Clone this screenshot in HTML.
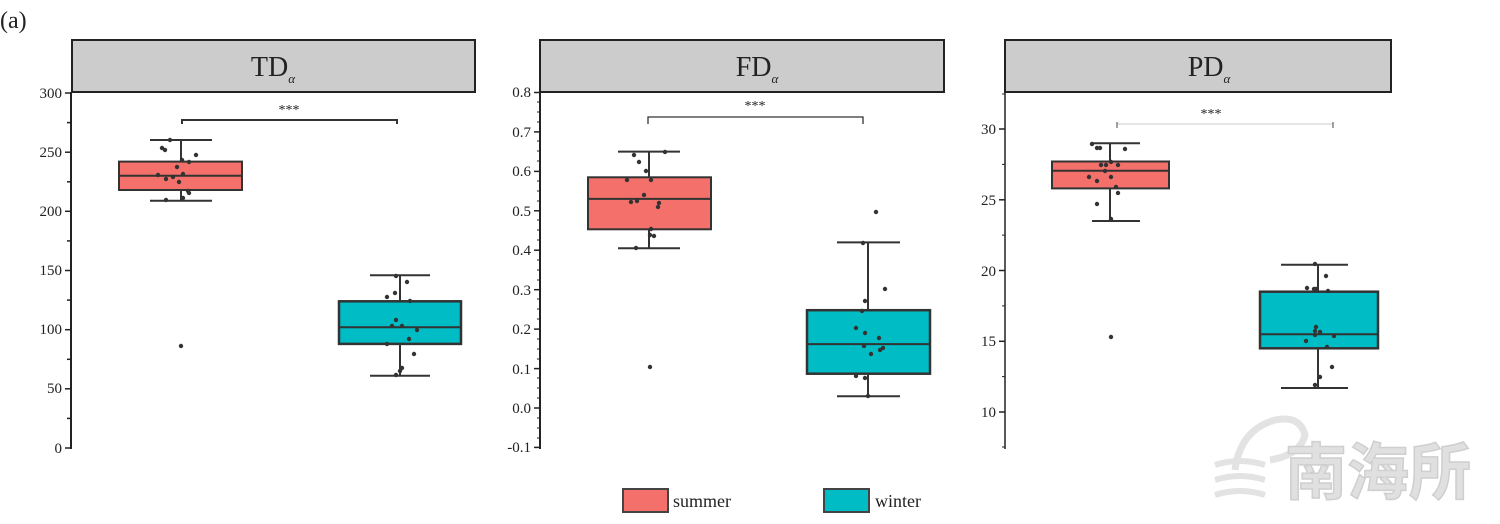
<!DOCTYPE html>
<html><head><meta charset="utf-8"><style>
html,body{margin:0;padding:0;background:#fff;}
svg{display:block;}
text{font-family:"Liberation Serif",serif;fill:#222;}
</style></head><body>
<svg width="1500" height="524" viewBox="0 0 1500 524" xmlns="http://www.w3.org/2000/svg">
<text x="0" y="28" font-size="24">(a)</text>

<!-- watermark -->
<g opacity="0.4">
<path d="M1235 470 q5 -40 40 -50 q25 -5 30 15 q-5 20 -35 25" fill="none" stroke="#bbb" stroke-width="7"/>
<path d="M1215 465 q25 -8 50 0 M1215 480 q25 -8 50 0 M1215 495 q25 -8 50 0" fill="none" stroke="#bbb" stroke-width="6"/>
</g>
<text x="1285" y="494" font-size="62" font-weight="bold" style="font-family:'Liberation Sans','Noto Sans CJK SC',sans-serif;fill:#e0e0e0;stroke:#cfcfcf;stroke-width:1.5">南海所</text>

<!-- Panel 1 -->
<rect x="72" y="40" width="403" height="52" fill="#cccccc" stroke="#222" stroke-width="2"/>
<text x="273" y="76" font-size="28" text-anchor="middle">TD<tspan dy="7" font-size="13" font-style="italic">α</tspan></text>
<line x1="71" y1="92" x2="71" y2="449" stroke="#222" stroke-width="2"/>
<g stroke="#222" stroke-width="1.5">
<line x1="65" y1="93" x2="71" y2="93"/><line x1="67" y1="122.6" x2="71" y2="122.6"/>
<line x1="65" y1="152.2" x2="71" y2="152.2"/><line x1="67" y1="181.8" x2="71" y2="181.8"/>
<line x1="65" y1="211.3" x2="71" y2="211.3"/><line x1="67" y1="240.9" x2="71" y2="240.9"/>
<line x1="65" y1="270.5" x2="71" y2="270.5"/><line x1="67" y1="300.1" x2="71" y2="300.1"/>
<line x1="65" y1="329.7" x2="71" y2="329.7"/><line x1="67" y1="359.3" x2="71" y2="359.3"/>
<line x1="65" y1="388.8" x2="71" y2="388.8"/><line x1="67" y1="418.4" x2="71" y2="418.4"/>
<line x1="65" y1="448" x2="71" y2="448"/>
</g>
<g font-size="15" text-anchor="end">
<text x="62" y="98">300</text><text x="62" y="157">250</text><text x="62" y="216">200</text>
<text x="62" y="275">150</text><text x="62" y="334">100</text><text x="62" y="393">50</text><text x="62" y="453">0</text>
</g>
<polyline points="182,124 182,120 397,120 397,124" fill="none" stroke="#333" stroke-width="2"/>
<text x="289" y="114" font-size="14" text-anchor="middle">***</text>
<g stroke="#333" stroke-width="2">
<line x1="181" y1="140" x2="181" y2="201"/><line x1="150" y1="140" x2="212" y2="140"/><line x1="150" y1="200.7" x2="212" y2="200.7"/>
<rect x="119" y="161.6" width="123" height="28.4" fill="#f4706a"/><line x1="119" y1="175.8" x2="242" y2="175.8"/>
<line x1="400" y1="275" x2="400" y2="376"/><line x1="370" y1="275.2" x2="430" y2="275.2"/><line x1="370" y1="375.8" x2="430" y2="375.8"/>
<rect x="339" y="301.3" width="122" height="42.6" fill="#00bcc4" stroke-width="2.5"/><line x1="339" y1="327.3" x2="461" y2="327.3"/>
</g>
<g fill="#333">
<circle cx="170" cy="140" r="2.2"/><circle cx="162" cy="148" r="2.2"/><circle cx="165" cy="150" r="2.2"/><circle cx="196" cy="155" r="2.2"/>
<circle cx="182" cy="160" r="2.2"/><circle cx="189" cy="162" r="2.2"/><circle cx="177" cy="167" r="2.2"/><circle cx="183" cy="174" r="2.2"/>
<circle cx="158" cy="175" r="2.2"/><circle cx="166" cy="179" r="2.2"/><circle cx="173" cy="177" r="2.2"/><circle cx="179" cy="182" r="2.2"/>
<circle cx="188" cy="191" r="2.2"/><circle cx="189" cy="193" r="2.2"/><circle cx="166" cy="200" r="2.2"/><circle cx="183" cy="198" r="2.2"/>
<circle cx="181" cy="346" r="2.2"/>
<circle cx="396" cy="276" r="2.2"/><circle cx="407" cy="282" r="2.2"/><circle cx="395" cy="293" r="2.2"/><circle cx="387" cy="297" r="2.2"/>
<circle cx="410" cy="301" r="2.2"/><circle cx="396" cy="320" r="2.2"/><circle cx="392" cy="326" r="2.2"/><circle cx="402" cy="326" r="2.2"/>
<circle cx="417" cy="330" r="2.2"/><circle cx="409" cy="339" r="2.2"/><circle cx="387" cy="344" r="2.2"/><circle cx="414" cy="354" r="2.2"/>
<circle cx="402" cy="368" r="2.2"/><circle cx="400" cy="371" r="2.2"/><circle cx="396" cy="375" r="2.2"/>
</g>

<!-- Panel 2 -->
<rect x="540" y="40" width="404" height="52" fill="#cccccc" stroke="#222" stroke-width="2"/>
<text x="757" y="76" font-size="28" text-anchor="middle">FD<tspan dy="7" font-size="13" font-style="italic">α</tspan></text>
<line x1="540" y1="92" x2="540" y2="449" stroke="#222" stroke-width="2"/>
<g stroke="#222" stroke-width="1.5">
<line x1="534" y1="92.5" x2="540" y2="92.5"/><line x1="534" y1="131.9" x2="540" y2="131.9"/><line x1="534" y1="171.4" x2="540" y2="171.4"/>
<line x1="534" y1="210.8" x2="540" y2="210.8"/><line x1="534" y1="250.2" x2="540" y2="250.2"/><line x1="534" y1="289.7" x2="540" y2="289.7"/>
<line x1="534" y1="329.1" x2="540" y2="329.1"/><line x1="534" y1="368.6" x2="540" y2="368.6"/><line x1="534" y1="408" x2="540" y2="408"/>
<line x1="534" y1="447.4" x2="540" y2="447.4"/>
</g>
<g stroke="#222" stroke-width="1">
<line x1="537" y1="102" x2="540" y2="102"/><line x1="537" y1="112" x2="540" y2="112"/><line x1="537" y1="122" x2="540" y2="122"/>
<line x1="537" y1="141" x2="540" y2="141"/><line x1="537" y1="151" x2="540" y2="151"/><line x1="537" y1="161" x2="540" y2="161"/>
<line x1="537" y1="181" x2="540" y2="181"/><line x1="537" y1="191" x2="540" y2="191"/><line x1="537" y1="201" x2="540" y2="201"/>
<line x1="537" y1="220" x2="540" y2="220"/><line x1="537" y1="230" x2="540" y2="230"/><line x1="537" y1="240" x2="540" y2="240"/>
<line x1="537" y1="260" x2="540" y2="260"/><line x1="537" y1="270" x2="540" y2="270"/><line x1="537" y1="280" x2="540" y2="280"/>
<line x1="537" y1="299" x2="540" y2="299"/><line x1="537" y1="309" x2="540" y2="309"/><line x1="537" y1="319" x2="540" y2="319"/>
<line x1="537" y1="339" x2="540" y2="339"/><line x1="537" y1="349" x2="540" y2="349"/><line x1="537" y1="359" x2="540" y2="359"/>
<line x1="537" y1="378" x2="540" y2="378"/><line x1="537" y1="388" x2="540" y2="388"/><line x1="537" y1="398" x2="540" y2="398"/>
<line x1="537" y1="418" x2="540" y2="418"/><line x1="537" y1="428" x2="540" y2="428"/><line x1="537" y1="438" x2="540" y2="438"/>
</g>
<g font-size="15" text-anchor="end">
<text x="531" y="97">0.8</text><text x="531" y="137">0.7</text><text x="531" y="176">0.6</text><text x="531" y="216">0.5</text>
<text x="531" y="255">0.4</text><text x="531" y="295">0.3</text><text x="531" y="334">0.2</text><text x="531" y="374">0.1</text>
<text x="531" y="413">0.0</text><text x="531" y="452">-0.1</text>
</g>
<polyline points="648,124 648,117 863,117 863,124" fill="none" stroke="#333" stroke-width="1.3"/>
<text x="755" y="110" font-size="14" text-anchor="middle">***</text>
<g stroke="#333" stroke-width="2">
<line x1="649" y1="152" x2="649" y2="248"/><line x1="618" y1="151.6" x2="680" y2="151.6"/><line x1="618" y1="248.3" x2="680" y2="248.3"/>
<rect x="588" y="177.3" width="123" height="52" fill="#f4706a"/><line x1="588" y1="198.9" x2="711" y2="198.9"/>
<line x1="868" y1="242" x2="868" y2="396"/><line x1="837" y1="242.4" x2="900" y2="242.4"/><line x1="837" y1="396.2" x2="900" y2="396.2"/>
<rect x="807" y="310.2" width="123" height="63.5" fill="#00bcc4" stroke-width="2.5"/><line x1="807" y1="344.1" x2="930" y2="344.1"/>
</g>
<g fill="#333">
<circle cx="634" cy="155" r="2.2"/><circle cx="665" cy="152" r="2.2"/><circle cx="639" cy="162" r="2.2"/><circle cx="646" cy="171" r="2.2"/>
<circle cx="627" cy="180" r="2.2"/><circle cx="651" cy="180" r="2.2"/><circle cx="644" cy="195" r="2.2"/><circle cx="637" cy="201" r="2.2"/>
<circle cx="631" cy="202" r="2.2"/><circle cx="659" cy="203" r="2.2"/><circle cx="658" cy="207" r="2.2"/><circle cx="651" cy="229" r="2.2"/>
<circle cx="650" cy="235" r="2.2"/><circle cx="654" cy="236" r="2.2"/><circle cx="636" cy="248" r="2.2"/>
<circle cx="650" cy="367" r="2.2"/>
<circle cx="876" cy="212" r="2.2"/><circle cx="863" cy="243" r="2.2"/><circle cx="885" cy="289" r="2.2"/><circle cx="865" cy="301" r="2.2"/>
<circle cx="862" cy="311" r="2.2"/><circle cx="856" cy="328" r="2.2"/><circle cx="865" cy="333" r="2.2"/><circle cx="879" cy="338" r="2.2"/>
<circle cx="864" cy="346" r="2.2"/><circle cx="871" cy="354" r="2.2"/><circle cx="880" cy="350" r="2.2"/><circle cx="883" cy="348" r="2.2"/>
<circle cx="856" cy="376" r="2.2"/><circle cx="865" cy="378" r="2.2"/><circle cx="868" cy="396" r="2.2"/>
</g>

<!-- Panel 3 -->
<rect x="1005" y="40" width="386" height="52" fill="#cccccc" stroke="#222" stroke-width="2"/>
<text x="1209" y="76" font-size="28" text-anchor="middle">PD<tspan dy="7" font-size="13" font-style="italic">α</tspan></text>
<line x1="1005" y1="92" x2="1005" y2="449" stroke="#222" stroke-width="1.5"/>
<g stroke="#222" stroke-width="1.5">
<line x1="999" y1="129" x2="1005" y2="129"/><line x1="999" y1="199.8" x2="1005" y2="199.8"/><line x1="999" y1="270.5" x2="1005" y2="270.5"/>
<line x1="999" y1="341.3" x2="1005" y2="341.3"/><line x1="999" y1="412" x2="1005" y2="412"/>
</g>
<g stroke="#222" stroke-width="1">
<line x1="1002" y1="94" x2="1005" y2="94"/><line x1="1002" y1="164.4" x2="1005" y2="164.4"/><line x1="1002" y1="235.1" x2="1005" y2="235.1"/>
<line x1="1002" y1="305.9" x2="1005" y2="305.9"/><line x1="1002" y1="376.6" x2="1005" y2="376.6"/><line x1="1002" y1="447" x2="1005" y2="447"/>
</g>
<g font-size="15" text-anchor="end">
<text x="996" y="134">30</text><text x="996" y="205">25</text><text x="996" y="276">20</text><text x="996" y="346">15</text><text x="996" y="417">10</text>
</g>
<line x1="1117" y1="124" x2="1333" y2="124" stroke="#ccc" stroke-width="1"/>
<line x1="1117" y1="122" x2="1117" y2="128" stroke="#444" stroke-width="1"/><line x1="1333" y1="122" x2="1333" y2="128" stroke="#444" stroke-width="1"/>
<text x="1211" y="118" font-size="14" text-anchor="middle">***</text>
<g stroke="#333" stroke-width="2">
<line x1="1110" y1="143" x2="1110" y2="221"/><line x1="1092" y1="143.2" x2="1140" y2="143.2"/><line x1="1092" y1="221" x2="1140" y2="221"/>
<rect x="1052" y="161.5" width="117" height="26.9" fill="#f4706a"/><line x1="1052" y1="170.7" x2="1169" y2="170.7"/>
<line x1="1318" y1="265" x2="1318" y2="388"/><line x1="1281" y1="264.8" x2="1348" y2="264.8"/><line x1="1281" y1="388" x2="1348" y2="388"/>
<rect x="1260" y="291.7" width="118" height="56.6" fill="#00bcc4" stroke-width="2.5"/><line x1="1260" y1="334.2" x2="1378" y2="334.2"/>
</g>
<g fill="#333">
<circle cx="1092" cy="144" r="2.2"/><circle cx="1097" cy="148" r="2.2"/><circle cx="1100" cy="148" r="2.2"/><circle cx="1125" cy="149" r="2.2"/>
<circle cx="1111" cy="162" r="2.2"/><circle cx="1101" cy="165" r="2.2"/><circle cx="1106" cy="165" r="2.2"/><circle cx="1118" cy="165" r="2.2"/>
<circle cx="1105" cy="171" r="2.2"/><circle cx="1089" cy="177" r="2.2"/><circle cx="1111" cy="177" r="2.2"/><circle cx="1097" cy="181" r="2.2"/>
<circle cx="1116" cy="187" r="2.2"/><circle cx="1118" cy="193" r="2.2"/><circle cx="1097" cy="204" r="2.2"/><circle cx="1111" cy="219" r="2.2"/>
<circle cx="1111" cy="337" r="2.2"/>
<circle cx="1315" cy="264" r="2.2"/><circle cx="1326" cy="276" r="2.2"/><circle cx="1307" cy="288" r="2.2"/><circle cx="1314" cy="289" r="2.2"/>
<circle cx="1316" cy="289" r="2.2"/><circle cx="1328" cy="291" r="2.2"/><circle cx="1316" cy="327" r="2.2"/><circle cx="1315" cy="331" r="2.2"/>
<circle cx="1320" cy="332" r="2.2"/><circle cx="1315" cy="335" r="2.2"/><circle cx="1334" cy="336" r="2.2"/><circle cx="1306" cy="341" r="2.2"/>
<circle cx="1327" cy="347" r="2.2"/><circle cx="1332" cy="367" r="2.2"/><circle cx="1320" cy="377" r="2.2"/><circle cx="1315" cy="385" r="2.2"/>
</g>

<!-- Legend -->
<rect x="623" y="489" width="45" height="23" fill="#f4706a" stroke="#444" stroke-width="2"/>
<text x="673" y="507" font-size="18">summer</text>
<rect x="824" y="489" width="45" height="23" fill="#00bcc4" stroke="#444" stroke-width="2"/>
<text x="875" y="507" font-size="18">winter</text>
</svg>
</body></html>
